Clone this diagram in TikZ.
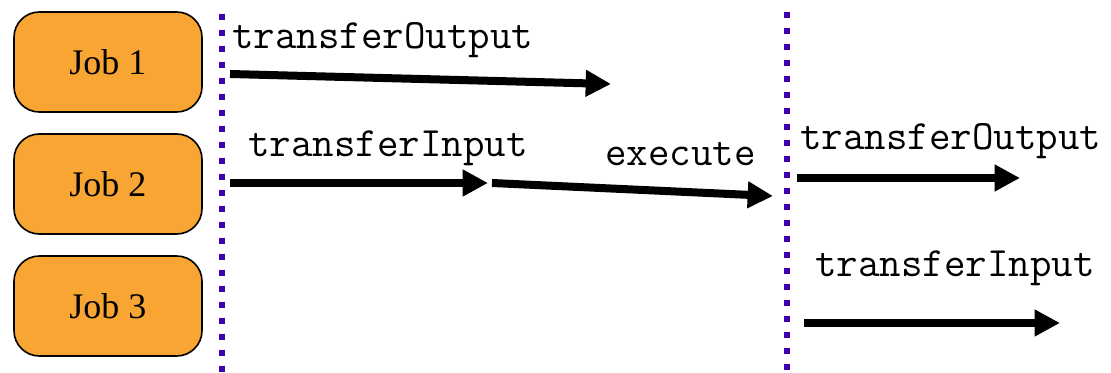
\documentclass[tikz,border=0pt]{standalone}
\usepackage{fontspec}
\setmainfont{Liberation Serif}
\usetikzlibrary{arrows.meta}
\definecolor{joborange}{HTML}{F9A533}
\definecolor{sepblue}{HTML}{3F00B0}
\tikzset{
  job/.style={draw=black, line width=1.2pt, fill=joborange, rounded corners=19pt,
    minimum width=141pt, minimum height=75pt, inner sep=0pt, font=\fontsize{27}{30}\selectfont},
  sep/.style={sepblue, line width=4.5pt, dash pattern=on 4.5pt off 7.5pt},
  flow/.style={line width=6pt, -{Triangle[length=19pt,width=19pt]}},
  lbl/.style={anchor=base west, inner sep=0pt, font=\ttfamily\fontsize{31.3}{34}\selectfont}
}
\begin{document}
\begin{tikzpicture}[x=0.75pt,y=-0.75pt]
\useasboundingbox (0,0) rectangle (1111,373);
\node[job] (j1) at (108,62) {Job 1};
\node[job] (j2) at (108,184) {Job 2};
\node[job] (j3) at (108,306) {Job 3};
\coordinate (s1t) at (222,14);
\coordinate (s1b) at (222,373);
\coordinate (s2t) at (787,12);
\coordinate (s2b) at (787,373);
\draw[sep] (s1t) -- (s1b);
\draw[sep] (s2t) -- (s2b);
\coordinate (a1s) at (230,74);
\coordinate (a1e) at (611,84);
\coordinate (a2s) at (230,183);
\coordinate (a2e) at (488,183);
\coordinate (a3s) at (492,183);
\coordinate (a3e) at (773,196);
\coordinate (a4s) at (797,178);
\coordinate (a4e) at (1020,178);
\coordinate (a5s) at (804,323);
\coordinate (a5e) at (1060,323);
\draw[flow] (a1s) -- (a1e);
\draw[flow] (a2s) -- (a2e);
\draw[flow] (a3s) -- (a3e);
\draw[flow] (a4s) -- (a4e);
\draw[flow] (a5s) -- (a5e);
\node[lbl] (l1) at (232,49) {transferOutput};
\node[lbl] (l2) at (248,157) {transferInput};
\node[lbl] (l3) at (605,166) {execute};
\node[lbl] (l4) at (800,150) {transferOutput};
\node[lbl] (l5) at (815,277) {transferInput};
\end{tikzpicture}
\end{document}
